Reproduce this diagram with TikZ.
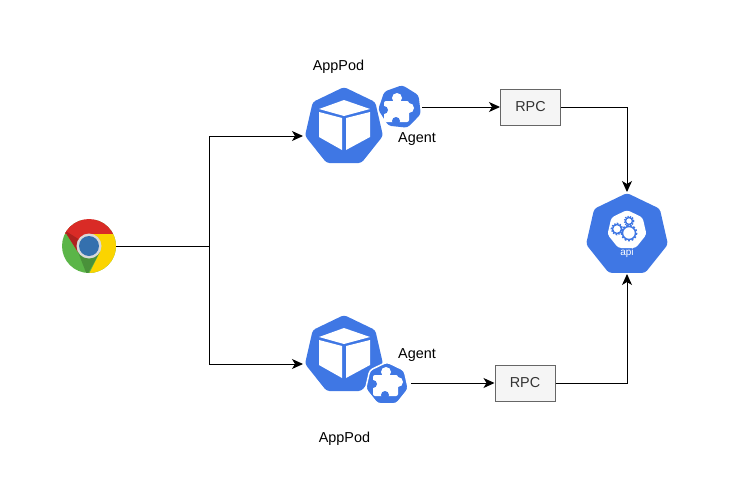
\documentclass[tikz,border=0pt]{standalone}
\usepackage{fontspec}
\setmainfont{Liberation Sans}
\usetikzlibrary{arrows.meta, shapes.geometric}
\definecolor{kubeblue}{HTML}{3F77E4}
\definecolor{chromered}{HTML}{D92B26}
\definecolor{chromegreen}{HTML}{5BB548}
\definecolor{chromeyellow}{HTML}{FBD400}
\definecolor{chromeblue}{HTML}{3470AE}
\tikzset{
    hept/.style={regular polygon, regular polygon sides=7, inner sep=0pt, fill=kubeblue, rounded corners=3},
    rpcbox/.style={draw=black!60, fill=black!4, line width=1, minimum width=60, minimum height=36, inner sep=0pt, text=black!80, font=\fontsize{14.4}{16}\selectfont},
    lbl/.style={inner sep=0pt, font=\fontsize{14.4}{16}\selectfont},
    conn/.style={line width=1, -{Stealth[length=11, width=10, inset=3]}}
}
% cube drawn inside a pod, #1 is the centre of the pod
\newcommand{\cubeicon}[1]{
    \begin{scope}[shift={#1}]
        \fill[white] (0,-27) -- (26,-18) -- (0,-11) -- (-25,-18) -- cycle;
        \fill[white] (-25,-15) -- (-2,-9) -- (-2,23) -- (-25,10) -- cycle;
        \fill[white] (2,-9) -- (26,-15) -- (26,10) -- (2,23) -- cycle;
    \end{scope}
}
% puzzle piece inside an agent
\newcommand{\puzzleicon}[1]{
    \begin{scope}[shift={#1}]
        \fill[white, rounded corners=2] (-16,-6) rectangle (9,15);
        \fill[white] (-3,-9) circle (5) (9,1) circle (5);
        \fill[kubeblue] (-4,14) circle (4) (-16,3) circle (4);
    \end{scope}
}
\newcommand{\gearicon}[3]{
    \draw[kubeblue, line width=1.4] #1 circle (#2);
    \draw[kubeblue, line width=1.8, dash pattern=on #3 off #3] #1 circle (#2+1);
}
\begin{document}
\begin{tikzpicture}[x=1pt, y=-1pt]
    \useasboundingbox (0,0) rectangle (729,485);

    % browser
    \node[circle, minimum size=54, inner sep=0pt] (chrome) at (89,246) {};
    \begin{scope}
        \clip (89,246) circle (27);
        \fill[chromegreen] (50,220) rectangle (125,280);
        \fill[chromegreen!80!black] (78,252) -- (100,252) -- (87,275) -- cycle;
        \fill[chromeyellow] (89,234) -- (120,234) -- (120,280) -- (86,280) -- (100,252) -- cycle;
        \fill[chromered] (60,215) rectangle (120,234);
        \fill[chromered] (60,220) -- (89,234) -- (78,252) -- (64,230) -- cycle;
        \fill[chromered!80!black] (64,230) -- (78,252) -- (80,240) -- cycle;
        \fill[black!15] (89,246) circle (12.5);
        \fill[chromeblue] (89,246) circle (10);
    \end{scope}

    % pods
    \node[hept, minimum size=80] (podtop) at (344,127) {};
    \cubeicon{(344,127)}
    \node[hept, minimum size=44, rotate=-6] (agenttop) at (400,107) {};
    \puzzleicon{(400,107)}

    \node[hept, minimum size=80] (podbot) at (344,355) {};
    \cubeicon{(344,355)}
    \node[hept, minimum size=44, draw=white, line width=1.5] (agentbot) at (387,384) {};
    \puzzleicon{(389,381)}

    % api
    \node[hept, minimum size=84] (api) at (627,235) {};
    \node[hept, minimum size=40, fill=white] (apicore) at (627,230) {};
    \gearicon{(629,233)}{6.5}{1.8}
    \gearicon{(617,229)}{4.5}{1.4}
    \gearicon{(629,221)}{3.5}{1.2}
    \node[text=white, inner sep=0pt, font=\fontsize{10}{12}\selectfont] (apilbl) at (627,253) {api};

    \node[rpcbox] (rpctop) at (530.5,107) {RPC};
    \node[rpcbox] (rpcbot) at (525,383) {RPC};

    \node[lbl] (lblpodtop) at (338.5,67) {AppPod};
    \node[lbl] (lblagenttop) at (417,139) {Agent};
    \node[lbl] (lblagentbot) at (417,355) {Agent};
    \node[lbl] (lblpodbot) at (344.5,439) {AppPod};

    \coordinate (podtopin) at (303,136);
    \coordinate (podbotin) at (303,364);
    \coordinate (split) at (209,246);
    \coordinate (agenttopout) at (422,107);
    \coordinate (agentbotout) at (411,383);
    \coordinate (apitop) at (627,192);
    \coordinate (apibot) at (627,274);

    \draw[line width=1] (chrome.east) -- (split);
    \draw[conn] (split) |- (podtopin);
    \draw[conn] (split) |- (podbotin);
    \draw[conn] (agenttopout) -- (rpctop.west);
    \draw[conn] (agentbotout) -- (rpcbot.west);
    \draw[conn] (rpctop.east) -| (apitop);
    \draw[conn] (rpcbot.east) -| (apibot);
\end{tikzpicture}
\end{document}
